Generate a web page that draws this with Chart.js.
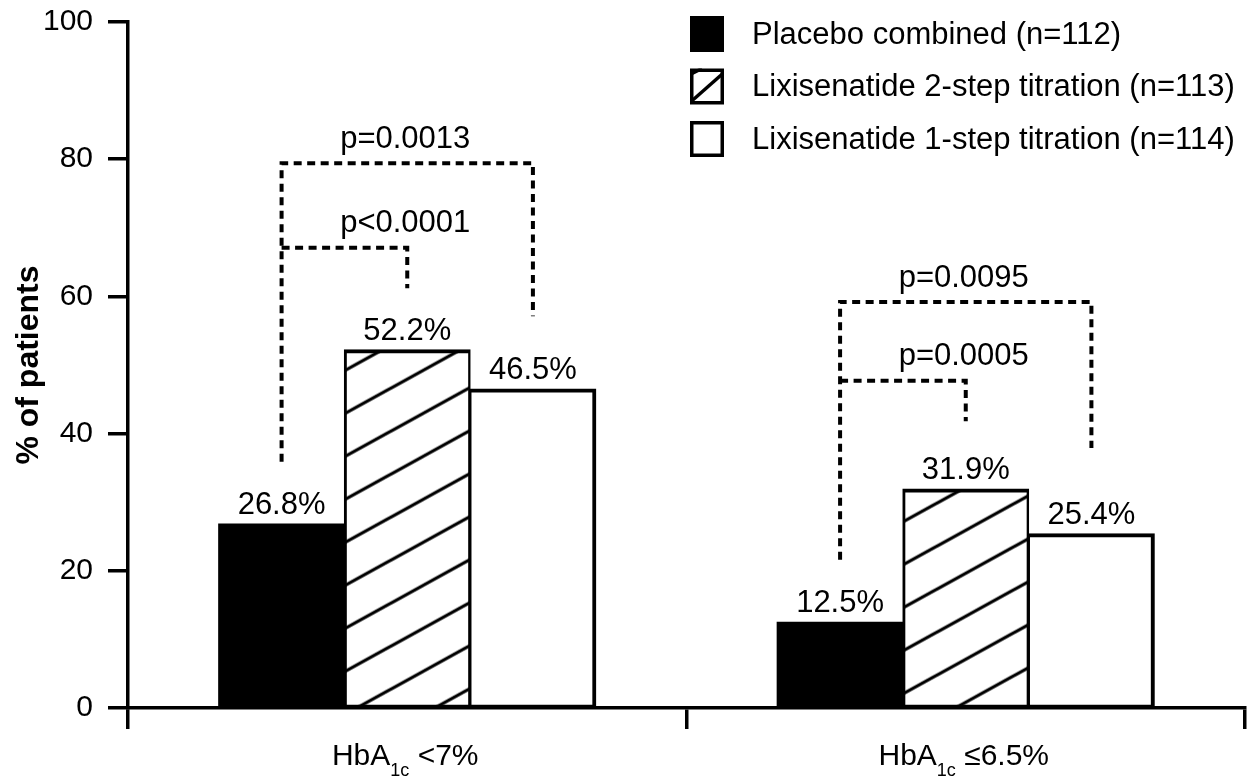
<!DOCTYPE html>
<html><head><meta charset="utf-8">
<script src="https://cdn.jsdelivr.net/npm/chart.js@4.4.1/dist/chart.umd.min.js"></script>
<style>html,body{margin:0;padding:0;background:#fff;} canvas{display:block;}</style>
</head><body>
<canvas id="c" width="1250" height="779"></canvas>
<script>
// ---- data ----
const categories = ['HbA1c <7%', 'HbA1c \u22646.5%'];
const seriesNames = ['Placebo combined (n=112)', 'Lixisenatide 2-step titration (n=113)', 'Lixisenatide 1-step titration (n=114)'];
const placebo = [26.8, 12.5];
const lixi2step = [52.2, 31.9];
const lixi1step = [46.5, 25.4];
const yTicks = [0, 20, 40, 60, 80, 100];
const yTitle = '% of patients';
// significance brackets (in % units)
const pOuter = ['p=0.0013', 'p=0.0095'];
const pInner = ['p<0.0001', 'p=0.0005'];
const outerTop = [79.4, 59.2];
const innerTop = [67.1, 47.7];
const leftBottom = [35.9, 21.6];
const innerRightBottom = [61.2, 41.8];
const outerRightBottom = [57.1, 37.9];

const FONT = '"Liberation Sans", Arial, Helvetica, sans-serif';
Chart.defaults.font.family = FONT;
Chart.defaults.color = '#000';

function makeHatch(ty) {
  const W = 78, H = 43, s = H / W;
  const c = document.createElement('canvas'); c.width = W; c.height = H;
  const g = c.getContext('2d');
  g.fillStyle = '#fff'; g.fillRect(0, 0, W, H);
  g.strokeStyle = '#000'; g.lineWidth = 3.2;
  for (let k = -1; k <= 1; k++) {
    g.beginPath(); g.moveTo(-10, H + s * 10 + k * H); g.lineTo(W + 10, -s * 10 + k * H); g.stroke();
  }
  const p = document.createElement('canvas').getContext('2d').createPattern(c, 'repeat');
  p.setTransform(new DOMMatrix().translate(0, ty));
  return p;
}
const hatch = [makeHatch(1.6), makeHatch(30.6)];

const overlay = {
  id: 'overlay',
  afterDatasetsDraw(chart) {
    const ctx = chart.ctx;
    const y = chart.scales.y;
    ctx.save();
    // value labels
    ctx.font = '31px ' + FONT; ctx.fillStyle = '#000'; ctx.textAlign = 'center'; ctx.textBaseline = 'alphabetic';
    chart.data.datasets.forEach((ds, i) => {
      chart.getDatasetMeta(i).data.forEach((el, j) => {
        ctx.fillText(ds.data[j].toFixed(1) + '%', el.x, el.y - 10);
      });
    });
    // brackets
    const m0 = chart.getDatasetMeta(0).data, m1 = chart.getDatasetMeta(1).data, m2 = chart.getDatasetMeta(2).data;
    ctx.strokeStyle = '#000'; ctx.lineWidth = 4; ctx.setLineDash([8, 5.5]);
    for (let j = 0; j < categories.length; j++) {
      const xL = m0[j].x, xM = m1[j].x, xR = m2[j].x;
      ctx.beginPath();
      ctx.moveTo(xL, y.getPixelForValue(leftBottom[j]));
      ctx.lineTo(xL, y.getPixelForValue(outerTop[j]));
      ctx.lineTo(xR, y.getPixelForValue(outerTop[j]));
      ctx.lineTo(xR, y.getPixelForValue(outerRightBottom[j]));
      ctx.stroke();
      ctx.beginPath();
      ctx.moveTo(xL, y.getPixelForValue(innerTop[j]));
      ctx.lineTo(xM, y.getPixelForValue(innerTop[j]));
      ctx.lineTo(xM, y.getPixelForValue(innerRightBottom[j]));
      ctx.stroke();
      ctx.fillText(pOuter[j], xM - 2, y.getPixelForValue(outerTop[j]) - 15);
      ctx.fillText(pInner[j], xM - 2, y.getPixelForValue(innerTop[j]) - 16);
    }
    ctx.restore();
  },
  afterDraw(chart) {
    const ctx = chart.ctx;
    const area = chart.chartArea;
    const x = chart.scales.x;
    ctx.save();
    ctx.fillStyle = '#000';
    // category labels with subscript
    categories.forEach((lab, j) => {
      const m = lab.match(/^(HbA)(1c)(.*)$/);
      const parts = m ? [[m[1], 30, 0], [m[2], 18, 11], [m[3], 30, 0]] : [[lab, 30, 0]];
      let total = 0;
      parts.forEach(p => { ctx.font = p[1] + 'px ' + FONT; p.push(ctx.measureText(p[0]).width); total += p[3]; });
      let cx = x.getPixelForValue(j) - total / 2 - 2;
      ctx.textAlign = 'left'; ctx.textBaseline = 'alphabetic';
      parts.forEach(p => { ctx.font = p[1] + 'px ' + FONT; ctx.fillText(p[0], cx, area.bottom + 57 + p[2]); cx += p[3]; });
    });
    // legend
    const lx = area.right - 555, ly = area.top - 6, bw = 34, bh = 36, rowH = 52.5;
    ctx.font = '31px ' + FONT; ctx.textAlign = 'left'; ctx.textBaseline = 'middle';
    seriesNames.forEach((name, i) => {
      const by = ly + i * rowH;
      if (i === 0) { ctx.fillStyle = '#000'; ctx.fillRect(lx, by, bw, bh); }
      else {
        ctx.fillStyle = '#fff'; ctx.fillRect(lx, by, bw, bh);
        ctx.strokeStyle = '#000'; ctx.lineWidth = 3.5; ctx.setLineDash([]);
        if (i === 1) {
          ctx.save(); ctx.beginPath(); ctx.rect(lx, by, bw, bh); ctx.clip();
          ctx.beginPath(); ctx.moveTo(lx, by + bh - 2); ctx.lineTo(lx + bw, by + 4); ctx.stroke();
          ctx.beginPath(); ctx.moveTo(lx, by + 6); ctx.lineTo(lx + 12, by); ctx.stroke();
          ctx.restore();
        }
        ctx.strokeRect(lx + 1.75, by + 1.75, bw - 3.5, bh - 3.5);
      }
      ctx.fillStyle = '#000';
      ctx.fillText(name, lx + 62, by + bh / 2 + 1);
    });
    ctx.restore();
  }
};

new Chart(document.getElementById('c'), {
  type: 'bar',
  data: {
    labels: categories,
    datasets: [
      { label: seriesNames[0], data: placebo, backgroundColor: '#000', borderColor: '#000',
        borderWidth: 0, borderSkipped: false },
      { label: seriesNames[1], data: lixi2step, backgroundColor: c => hatch[c.dataIndex || 0], borderColor: '#000',
        borderWidth: { top: 4, left: 3, right: 2.5, bottom: 2 }, borderSkipped: false },
      { label: seriesNames[2], data: lixi1step, backgroundColor: '#fff', borderColor: '#000',
        borderWidth: { top: 4, left: 2, right: 4, bottom: 2 }, borderSkipped: false }
    ]
  },
  options: {
    responsive: false,
    animation: false,
    events: [],
    layout: { padding: { top: 22, right: 5, left: 0, bottom: 0 } },
    datasets: { bar: { categoryPercentage: 0.675, barPercentage: 1, inflateAmount: 0.6 } },
    plugins: { legend: { display: false }, tooltip: { enabled: false } },
    scales: {
      x: {
        z: 1,
        offset: true,
        grid: { offset: true, drawOnChartArea: false, drawTicks: true, tickLength: 21, lineWidth: 3.5, color: '#000' },
        border: { display: true, width: 3.5, color: '#000' },
        ticks: { display: false },
        afterFit: s => { s.height = 71; s.paddingLeft = 0; s.paddingRight = 0; }
      },
      y: {
        z: 1,
        min: 0, max: 100,
        afterBuildTicks: s => { s.ticks = yTicks.map(v => ({ value: v })); },
        grid: { drawOnChartArea: false, drawTicks: true, tickLength: 20, lineWidth: 3.5, color: '#000' },
        border: { display: true, width: 3.5, color: '#000' },
        ticks: { font: { size: 30 }, color: '#000', padding: 15 },
        title: { display: true, text: yTitle, font: { size: 32, weight: 'bold' }, color: '#000', padding: { top: 10, bottom: 0 } },
        afterFit: s => { s.width = 128; s.paddingTop = 0; s.paddingBottom = 0; }
      }
    }
  },
  plugins: [overlay]
});
</script>
</body></html>
